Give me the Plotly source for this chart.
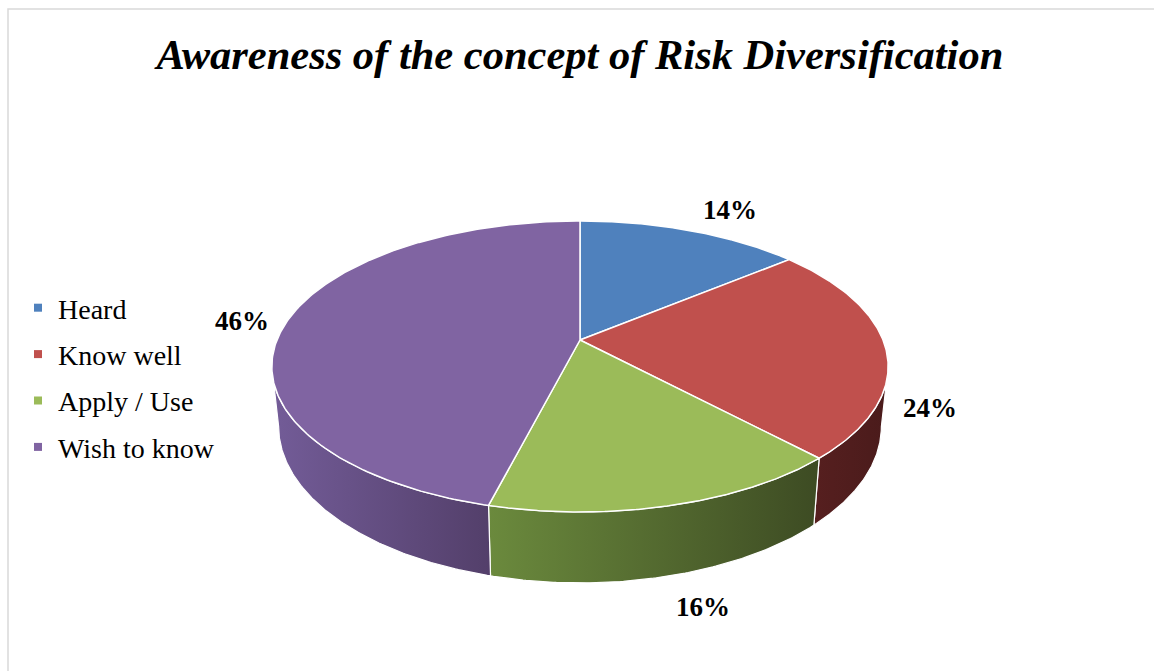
import numpy as np
import plotly.graph_objects as go

# ---- data ----
categories = ["Heard", "Know well", "Apply / Use", "Wish to know"]
values = [14, 24, 16, 46]
top_colors = ["#4F81BD", "#C0504D", "#9BBB59", "#8064A2"]
side_colors = [("#3a5f8c", "#2c4a6e"), ("#561f1f", "#4a1b1b"),
               ("#6b8a3d", "#3d4b23"), ("#735c98", "#533f6a")]
title_text = "Awareness of the concept of Risk Diversification"

# ---- geometry of the pseudo-3D pie (pixel-like axis units) ----
W, H = 1154, 671
CX, CY = 580.0, 340.0
RX, RY = 303.0, 140.7
P = 0.182          # perspective strength
D = 58.0           # depth of the pie
XS = 0.978         # bottom face shrink
LABEL_GAP = 44.0   # distance of data labels from the pie edge
LABEL_VSQ = 0.25   # vertical squeeze of label direction
FONT = "Liberation Serif, Times New Roman, serif"


def proj(theta_deg, r=1.0, bottom=False):
    t = np.radians(theta_deg)
    u = r * np.sin(t)
    v = -r * np.cos(t)
    w = 1.0 / (1.0 - P * v)
    x = CX + RX * u * w
    y = CY + RY * v * w
    if bottom:
        x = CX + (x - CX) * XS
        y = y + D * w
    return x, y


total = float(sum(values))
bounds = np.concatenate([[0.0], np.cumsum(values) / total * 360.0])
vis_lo = 180.0 - np.degrees(np.arccos(P))
vis_hi = 180.0 + np.degrees(np.arccos(P))

fig = go.Figure()

# side walls
for i, cat in enumerate(categories):
    a, b = bounds[i], bounds[i + 1]
    lo, hi = max(a, vis_lo), min(b, vis_hi)
    if hi <= lo:
        continue
    th = np.linspace(lo, hi, 120)
    xt, yt = proj(th)
    xb, yb = proj(th[::-1], bottom=True)
    xs = np.concatenate([xt, xb, xt[:1]])
    ys = np.concatenate([yt, yb, yt[:1]])
    c1, c2 = side_colors[i]
    fig.add_trace(go.Scatter(
        x=xs, y=ys, mode="lines", fill="toself",
        fillgradient=dict(type="horizontal", colorscale=[[0, c1], [1, c2]]),
        line=dict(color="white", width=1.2), hoverinfo="skip", showlegend=False))

# top faces
for i, cat in enumerate(categories):
    a, b = bounds[i], bounds[i + 1]
    th = np.linspace(a, b, 200)
    xt, yt = proj(th)
    xs = np.concatenate([[CX], xt, [CX]])
    ys = np.concatenate([[CY], yt, [CY]])
    fig.add_trace(go.Scatter(
        x=xs, y=ys, mode="lines", fill="toself", fillcolor=top_colors[i],
        line=dict(color="white", width=1.5), hoverinfo="skip", showlegend=False))

# data labels (outside end)
for i, cat in enumerate(categories):
    mid = (bounds[i] + bounds[i + 1]) / 2.0
    t = np.radians(mid)
    u, v = np.sin(t), -np.cos(t)
    if v > 0:
        lx, ly = proj(mid, bottom=True)
        lx = CX + (lx - CX) / XS
    else:
        lx, ly = proj(mid)
    du, dv = u, v * LABEL_VSQ
    n = np.hypot(du, dv)
    lx += LABEL_GAP * du / n
    ly += LABEL_GAP * dv / n
    fig.add_annotation(x=lx, y=ly, text=f"<b>{values[i]:.0f}%</b>", showarrow=False,
                       font=dict(family=FONT, size=27, color="black"),
                       xanchor="center", yanchor="middle")

# legend entries
for i, cat in enumerate(categories):
    fig.add_trace(go.Scatter(
        x=[None], y=[None], mode="markers", name=cat, legendgroup=cat,
        marker=dict(symbol="square", size=8, color=top_colors[i])))

fig.update_layout(
    width=W, height=H, margin=dict(l=0, r=0, t=0, b=0),
    paper_bgcolor="white", plot_bgcolor="white",
    xaxis=dict(range=[0, W], visible=False, fixedrange=True),
    yaxis=dict(range=[H, 0], visible=False, fixedrange=True),
    title=dict(text=title_text, x=0.5025, xanchor="center", y=1 - 54 / H, yanchor="middle",
               font=dict(family=FONT, size=42.5, color="black", weight="bold", style="italic")),
    legend=dict(x=18 / W, xanchor="left", y=1 - 283 / H, yanchor="top",
                font=dict(family=FONT, size=28, color="black"),
                tracegroupgap=7, bgcolor="rgba(0,0,0,0)"),
    shapes=[dict(type="rect", xref="paper", yref="paper", x0=8 / W, x1=1.01,
                 y0=-0.01, y1=1 - 9 / H, line=dict(color="#d9d9d9", width=1.5),
                 fillcolor="rgba(0,0,0,0)", layer="below")],
    showlegend=True,
)

fig.write_html("out.html")
